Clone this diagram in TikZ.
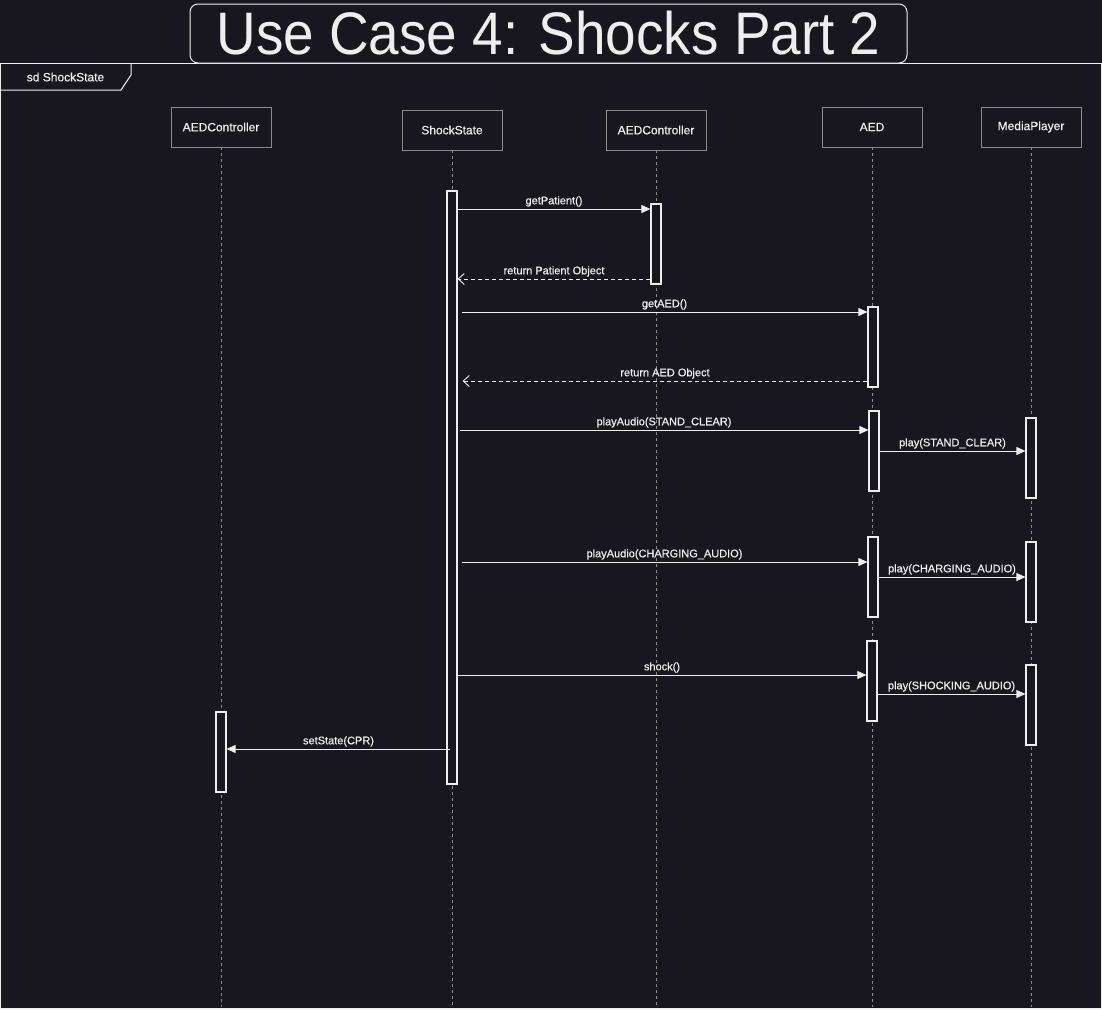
\documentclass[tikz,border=0pt]{standalone}
\usepackage{fontspec}
\setmainfont{Liberation Sans}
\newfontface\lblfont[FakeBold=0.6]{Liberation Sans}
\usetikzlibrary{arrows.meta}
\usetikzlibrary{calc}

\definecolor{bgdark}{HTML}{18161E}
\definecolor{fgwhite}{HTML}{EEEEEE}
\definecolor{boxgrey}{HTML}{8A8A8A}

\tikzset{
	head/.style={draw=boxgrey, fill=bgdark, minimum width=100pt, minimum height=40pt, inner sep=0pt, text=fgwhite, font=\lblfont\fontsize{12}{14}\selectfont},
	life/.style={draw=boxgrey, dash pattern=on 3pt off 3pt, line width=0.8pt},
	act/.style={draw=fgwhite, fill=bgdark, minimum width=10pt, inner sep=0pt, line width=1.2pt},
	msg/.style={draw=fgwhite, line width=0.9pt, -{Triangle[length=9pt,width=8pt]}},
	ret/.style={draw=fgwhite, line width=0.9pt, dash pattern=on 4pt off 3pt, -{Straight Barb[length=6pt,width=11pt]}},
	lbl/.style={text=fgwhite, font=\lblfont\fontsize{11}{13}\selectfont, above, inner sep=2pt}
}
% activation bar: name, x, top, bottom
\newcommand{\actbar}[4]{\node[act, minimum height={#4pt-#3pt}] (#1) at (#2,{(#3+#4)/2}) {};}

\begin{document}
\begin{tikzpicture}[x=1pt, y=-1pt]
	\fill[bgdark] (0,0) rectangle (1102,1009);
	\useasboundingbox (0,0) rectangle (1102,1009);

	% frame and title
	\draw[fgwhite, line width=1pt] (0.5,63) rectangle (1101.9,1008.9);
	\draw[fgwhite, line width=1pt] (0.5,90) -- (121,90) -- (131,75) -- (131,63);
	\node[text=fgwhite, font=\lblfont\fontsize{12}{14}\selectfont] (sd) at (65.5,77) {sd ShockState};
	\node[draw=fgwhite, fill=bgdark, rounded corners=8pt, line width=1pt, minimum width=717pt, minimum height=59pt, inner sep=0pt, text=fgwhite, font=\fontsize{60}{60}\selectfont] (title) at (548.5,33.5) {\scalebox{0.915}[1]{Use Case 4: Shocks Part 2}};

	% lifeline heads
	\node[head] (ctlA) at (221,127) {AEDController};
	\node[head] (shock) at (452,130) {ShockState};
	\node[head] (ctlB) at (656,130) {AEDController};
	\node[head] (aed) at (872,127) {AED};
	\node[head] (media) at (1031,127) {MediaPlayer};
	\foreach \h in {ctlA,shock,ctlB,aed,media}
		\draw[life] (\h.south) -- (\h.south |- 0,1007);

	% activations
	\actbar{ss}{452}{191}{784}
	\actbar{cb}{656}{204}{284}
	\actbar{aa}{873}{307}{387}
	\actbar{ab}{874}{411}{491}
	\actbar{ac}{873}{537}{617}
	\actbar{ad}{872}{641}{721}
	\actbar{ma}{1031}{418}{498}
	\actbar{mb}{1031}{542}{622}
	\actbar{mc}{1031}{665}{745}
	\actbar{ca}{221}{712}{792}

	% messages
	\draw[msg] (ss.east |- 0,209) -- node[lbl] {getPatient()} (cb.west |- 0,209);
	\draw[ret] (cb.west |- 0,279) -- node[lbl] {return Patient Object} (ss.east |- 0,279);
	\draw[msg] ([xshift=4pt]ss.east |- 0,312) -- node[lbl] {getAED()} (aa.west |- 0,312);
	\draw[ret] (aa.west |- 0,381) -- node[lbl] {return AED Object} ([xshift=5pt]ss.east |- 0,381);
	\draw[msg] ([xshift=2pt]ss.east |- 0,430) -- node[lbl] {playAudio(STAND\_CLEAR)} (ab.west |- 0,430);
	\draw[msg] (ab.east |- 0,451) -- node[lbl] {play(STAND\_CLEAR)} (ma.west |- 0,451);
	\draw[msg] ([xshift=4pt]ss.east |- 0,562) -- node[lbl] {playAudio(CHARGING\_AUDIO)} (ac.west |- 0,562);
	\draw[msg] (ac.east |- 0,577) -- node[lbl] {play(CHARGING\_AUDIO)} (mb.west |- 0,577);
	\draw[msg] (ss.east |- 0,675) -- node[lbl] {shock()} (ad.west |- 0,675);
	\draw[msg] (ad.east |- 0,694) -- node[lbl] {play(SHOCKING\_AUDIO)} (mc.west |- 0,694);
	\draw[msg] ([xshift=4pt]ss.west |- 0,749) -- node[lbl] {setState(CPR)} (ca.east |- 0,749);
\end{tikzpicture}
\end{document}
